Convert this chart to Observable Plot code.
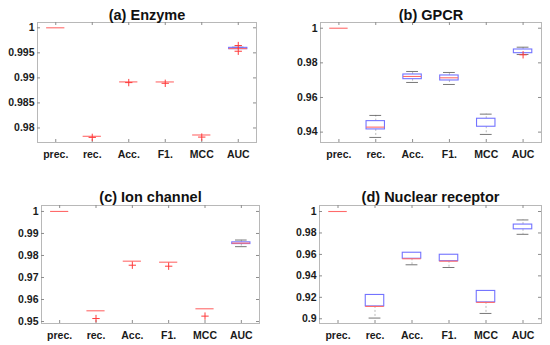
<!DOCTYPE html>
<html><head><meta charset="utf-8">
<script src="https://cdn.jsdelivr.net/npm/d3@7"></script>
<script src="https://cdn.jsdelivr.net/npm/@observablehq/plot@0.6"></script>
<style>
body{margin:0;background:#fff;}
#root{position:relative;width:550px;height:345px;font-family:"Liberation Sans",Arial,sans-serif;}
#root svg{position:absolute;}
</style></head><body><div id="root"></div>
<script>
const metrics = ["prec.", "rec.", "Acc.", "F1.", "MCC", "AUC"];

// (a) Enzyme
const aQ1  = [1, 0.97834, 0.98920, 0.98919, 0.97860, 0.99574];
const aMed = [1, 0.97834, 0.98920, 0.98919, 0.97860, 0.99585];
const aQ3  = [1, 0.97834, 0.98920, 0.98919, 0.97860, 0.99600];
const aLo  = [1, 0.97834, 0.98920, 0.98919, 0.97860, 0.99574];
const aHi  = [1, 0.97834, 0.98920, 0.98919, 0.97860, 0.99612];
const aOut = [[], [0.97812], [0.98906], [0.98892], [0.97818], [0.99646, 0.99532]];
const aTicks = [0.98, 0.985, 0.99, 0.995, 1];

// (b) GPCR
const bQ1  = [1, 0.94155, 0.97057, 0.96982, 0.94310, 0.98557];
const bMed = [1, 0.94288, 0.97213, 0.97136, null, null];
const bQ3  = [1, 0.94634, 0.97328, 0.97271, 0.94772, 0.98771];
const bLo  = [1, 0.93693, 0.96867, 0.96751, 0.93866, 0.98480];
const bHi  = [1, 0.94963, 0.97502, 0.97444, 0.95038, 0.98904];
const bOut = [[], [], [], [], [], [0.98465]];
const bTicks = [0.94, 0.96, 0.98, 1];

// (c) Ion channel
const cQ1  = [1, 0.95487, 0.97741, 0.97695, 0.95578, 0.98518];
const cMed = [1, 0.95487, 0.97741, 0.97695, 0.95578, 0.98560];
const cQ3  = [1, 0.95487, 0.97741, 0.97695, 0.95578, 0.98596];
const cLo  = [1, 0.95487, 0.97741, 0.97695, 0.95578, 0.98400];
const cHi  = [1, 0.95487, 0.97741, 0.97695, 0.95578, 0.98701];
const cOut = [[], [0.95135], [0.97558], [0.97513], [0.95245], []];
const cTicks = [0.95, 0.96, 0.97, 0.98, 0.99, 1];

// (d) Nuclear receptor
const dQ1  = [1, 0.91153, 0.95595, 0.95370, 0.91528, 0.98341];
const dMed = [1, 0.91153, 0.95595, 0.95370, 0.91528, null];
const dQ3  = [1, 0.92221, 0.96157, 0.95970, 0.92596, 0.98782];
const dLo  = [1, 0.90066, 0.95033, 0.94780, 0.90497, 0.97873];
const dHi  = [1, 0.92221, 0.96157, 0.95970, 0.92596, 0.99213];
const dOut = [[], [], [], [], [], []];
const dTicks = [0.9, 0.92, 0.94, 0.96, 0.98, 1];

const panels = [
  {title: "(a) Enzyme", q1: aQ1, med: aMed, q3: aQ3, lo: aLo, hi: aHi, out: aOut, ticks: aTicks, domain: [0.9771, 1.00106],
   left: 0, top: 0, width: 275, height: 172, mL: 37, mR: 19, mT: 22, mB: 30, titleDy: -3},
  {title: "(b) GPCR", q1: bQ1, med: bMed, q3: bQ3, lo: bLo, hi: bHi, out: bOut, ticks: bTicks, domain: [0.934, 1.0033],
   left: 275, top: 0, width: 275, height: 172, mL: 45, mR: 9, mT: 22, mB: 30, titleDy: -3},
  {title: "(c) Ion channel", q1: cQ1, med: cMed, q3: cQ3, lo: cLo, hi: cHi, out: cOut, ticks: cTicks, domain: [0.9491, 1.0027],
   left: 0, top: 172, width: 275, height: 173, mL: 41, mR: 16, mT: 33, mB: 22, titleDy: -4},
  {title: "(d) Nuclear receptor", q1: dQ1, med: dMed, q3: dQ3, lo: dLo, hi: dHi, out: dOut, ticks: dTicks, domain: [0.8956, 1.0056],
   left: 275, top: 172, width: 275, height: 173, mL: 44, mR: 9, mT: 33, mB: 22, titleDy: -4}
];

const xTicks = metrics.map((m, k) => k + 1);
const fmt = d => String(+d.toFixed(4));
const font = '"Liberation Sans", Arial, sans-serif';

function draw(p) {
  const rows = metrics.map((m, k) => ({i: k + 1, q1: p.q1[k], med: p.med[k], q3: p.q3[k], lo: p.lo[k], hi: p.hi[k]}));
  const outs = p.out.flatMap((arr, k) => arr.map(v => ({i: k + 1, v})));
  const innerW = p.width - p.mL - p.mR;
  const innerH = p.height - p.mT - p.mB;
  const tickCol = "#8c8c8c";
  const svg = Plot.plot({
    width: p.width, height: p.height,
    marginLeft: p.mL, marginRight: p.mR, marginTop: p.mT, marginBottom: p.mB,
    x: {type: "linear", domain: [0.5, 6.5]},
    y: {type: "linear", domain: p.domain},
    style: {fontFamily: font, background: "transparent", overflow: "visible"},
    marks: [
      Plot.frame({stroke: "#b8b8b8"}),
      Plot.tickY(p.ticks, {y: d => d, stroke: tickCol, insetRight: innerW - 3}),
      Plot.tickY(p.ticks, {y: d => d, stroke: tickCol, insetLeft: innerW - 3}),
      Plot.tickX(xTicks, {x: d => d, stroke: tickCol, insetBottom: innerH - 3}),
      Plot.tickX(xTicks, {x: d => d, stroke: tickCol, insetTop: innerH - 3}),
      Plot.axisY(p.ticks, {tickSize: 0, tickPadding: 3, tickFormat: fmt, fontWeight: "bold", fontSize: 10.5, fill: "#1a1a1a", label: null}),
      Plot.axisX(xTicks, {tickSize: 0, tickPadding: 8, tickFormat: i => metrics[i - 1], fontWeight: "bold", fontSize: 10.5, fill: "#1a1a1a", label: null}),
      Plot.ruleX(rows.filter(d => d.hi > d.q3), {x: "i", y1: "q3", y2: "hi", stroke: "#777", strokeDasharray: "2,2", strokeOpacity: 0.5}),
      Plot.ruleX(rows.filter(d => d.lo < d.q1), {x: "i", y1: "q1", y2: "lo", stroke: "#777", strokeDasharray: "2,2", strokeOpacity: 0.5}),
      Plot.ruleY(rows.filter(d => d.hi > d.q3), {y: "hi", x1: d => d.i - 0.16, x2: d => d.i + 0.16, stroke: "#555", strokeOpacity: 0.8}),
      Plot.ruleY(rows.filter(d => d.lo < d.q1), {y: "lo", x1: d => d.i - 0.16, x2: d => d.i + 0.16, stroke: "#555", strokeOpacity: 0.8}),
      Plot.rect(rows.filter(d => d.q3 > d.q1), {x1: d => d.i - 0.25, x2: d => d.i + 0.25, y1: "q1", y2: "q3", fill: "none", stroke: "#7373ff", strokeWidth: 1.1}),
      Plot.ruleY(rows.filter(d => d.med != null), {y: "med", x1: d => d.i - 0.25, x2: d => d.i + 0.25, stroke: "#ff6a6a", strokeWidth: 1.1}),
      Plot.dot(outs, {x: "i", y: "v", symbol: "plus", r: 2.5, stroke: "#ff3a3a", strokeWidth: 1}),
      Plot.text([p.title], {frameAnchor: "top", lineAnchor: "bottom", dy: p.titleDy, fontSize: 14.5, fontWeight: "bold", fill: "#111"})
    ]
  });
  svg.style.left = p.left + "px";
  svg.style.top = p.top + "px";
  document.getElementById("root").appendChild(svg);
}
panels.forEach(draw);
</script></body></html>
